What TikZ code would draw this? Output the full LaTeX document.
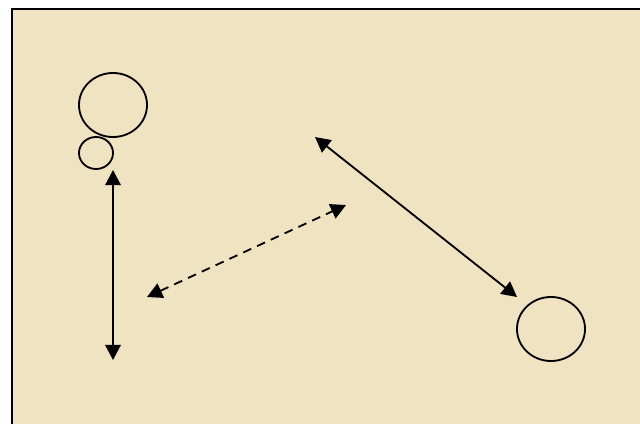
\documentclass[tikz,border=0pt]{standalone}
\usepackage{tikz}
\usepackage{xcolor}
\usetikzlibrary{positioning,arrows.meta,shapes,calc}
\definecolor{Parchment}{RGB}{240,227,194}

\begin{document}
\begin{tikzpicture}[x=0.025cm, y=-0.025cm,
    ring/.style={ellipse, draw=black, line width=1.3pt, inner sep=0pt},
    big/.style={ring, minimum width=1.7cm, minimum height=1.6cm},
    small/.style={ring, minimum width=0.85cm, minimum height=0.8cm},
    da/.style={{Triangle[length=3.8mm,width=3.9mm]}-{Triangle[length=3.8mm,width=3.9mm]}, line width=1.3pt},
    dda/.style={da, dashed, dash pattern=on 2.2mm off 1.6mm}
]
    \useasboundingbox (0,0) rectangle (640,423);
    \fill[white] (0,0) rectangle (640,423);
    \draw[fill=Parchment, line width=1.5pt] (12,9) rectangle (660,440);

    \node[big] (top) at (113,105) {};
    \node[small] (dot) at (96,153) {};
    \node[big] (goal) at (551,329) {};

    \coordinate (up) at (113,170);
    \coordinate (down) at (113,360);
    \coordinate (far) at (315,137);
    \coordinate (near) at (517,297);
    \coordinate (left) at (147,297);
    \coordinate (right) at (346,205);

    \draw[da] (up) -- (down);
    \draw[da] (far) -- (near);
    \draw[dda] (left) -- (right);
\end{tikzpicture}
\end{document}
